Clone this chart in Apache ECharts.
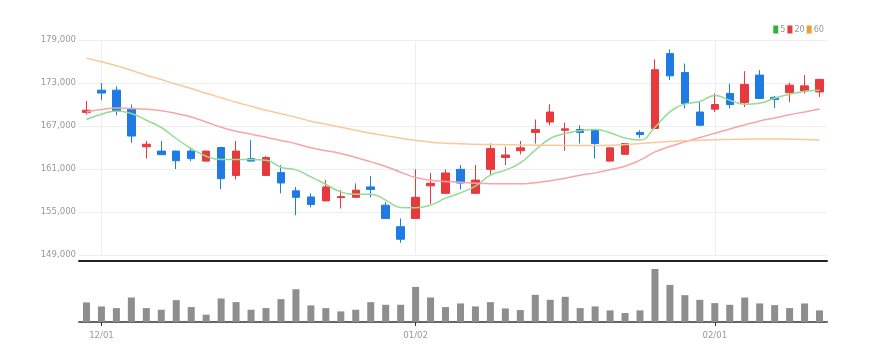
<!DOCTYPE html>
<html>
<head>
<meta charset="utf-8">
<script src="https://cdn.jsdelivr.net/npm/echarts@6/dist/echarts.min.js"></script>
<style>
html,body{margin:0;padding:0;background:#fff;}
#chart{width:877px;height:363px;}
</style>
</head>
<body>
<div id="chart"></div>
<script>
const categories = [
'2022-11-30',
'2022-12-01','2022-12-02','2022-12-05','2022-12-06','2022-12-07','2022-12-08','2022-12-09',
'2022-12-12','2022-12-13','2022-12-14','2022-12-15','2022-12-16','2022-12-19','2022-12-20',
'2022-12-21','2022-12-22','2022-12-23','2022-12-26','2022-12-27','2022-12-28','2022-12-29',
'2023-01-02','2023-01-03','2023-01-04','2023-01-05','2023-01-06','2023-01-09','2023-01-10',
'2023-01-11','2023-01-12','2023-01-13','2023-01-16','2023-01-17','2023-01-18','2023-01-19',
'2023-01-20','2023-01-25','2023-01-26','2023-01-27','2023-01-30','2023-01-31',
'2023-02-01','2023-02-02','2023-02-03','2023-02-06','2023-02-07','2023-02-08','2023-02-09','2023-02-10'
];
const openV  = [168900,172000,172000,169450,164100,163500,163500,163500,162100,164000,160100,162450,160100,160500,157950,157100,156550,157000,157050,158500,155950,152950,154100,158650,157600,160950,157600,160950,162600,163550,166100,167550,166400,166500,166500,162100,163050,166100,166650,177100,174450,168950,169350,171550,170250,174100,171000,171650,171900,171750];
const closeV = [169200,171600,169100,165600,164450,163000,162150,162450,163500,159650,163500,162100,162600,159050,157050,156050,158500,157150,158050,158150,154100,151200,157050,159000,160450,159050,159450,163850,162950,163950,166500,168950,166600,166100,164550,163950,164550,165800,174850,174000,170150,167100,170000,170000,172800,170850,170700,172700,172600,173500];
const lowV   = [168600,170600,168500,164650,162450,162950,161000,162100,162050,158200,159550,162050,160050,157600,154550,155650,156500,155500,157000,157050,154050,150700,154050,156100,157550,158150,157550,160150,161550,163050,164550,167100,163550,164550,162450,162050,163000,165350,166600,173400,169450,167050,168950,169450,169650,170800,169500,170350,171550,171050];
const highV  = [170500,173000,172550,170000,164900,164900,163550,164000,163550,164050,164900,165000,162800,161550,158500,157600,159450,158050,159000,160000,156400,154100,160950,160450,160950,161550,161550,164550,164100,164900,167900,170050,167450,167100,166550,164000,164600,166400,176300,177700,175700,170350,171550,172900,174650,174800,171200,173050,174100,173550];
const volumeV = [59,47,42,74,42,37,66,45,22,71,60,37,42,69,99,50,42,32,37,60,52,52,106,74,45,56,47,60,41,36,82,67,76,42,47,35,27,35,160,112,81,67,57,52,74,56,51,42,56,35];
const ma5  = [167904,168643,169103,168740,167806,166789,165255,163861,162788,162328,162328,162328,162230,161254,160878,159902,158857,157811,157491,157491,156654,155637,155581,155957,156933,157672,158606,160139,160836,161854,163624,165255,165952,166342,166510,166064,165325,165060,166830,168963,170064,170413,171249,170594,170037,170176,170873,171431,171849,171988];
const ma20 = [168963,169298,169521,169437,169340,169130,168740,168266,167569,166830,166273,165855,165436,164976,164530,163973,163554,163164,162607,161993,161352,160557,159819,159442,159261,159163,159024,158954,158926,158926,159094,159372,159721,160139,160460,160906,161394,162230,163387,164140,164781,165395,165994,166593,167151,167695,168113,168573,168963,169367];
const ma60 = [176491,175961,175403,174776,174079,173480,172825,172225,171570,170943,170315,169758,169200,168712,168224,167667,167249,166830,166412,165994,165645,165297,165018,164739,164600,164530,164461,164419,164391,164363,164321,164321,164293,164279,164279,164321,164419,164558,164698,164837,164949,165018,165088,165116,165158,165186,165186,165158,165116,165060];
const maNames = ['5','20','60'];
const priceMin = 149000, priceMax = 179000, priceStep = 6000;

const candleData = openV.map((o, i) => [o, closeV[i], lowV[i], highV[i]]);
const monthStart = (idx) => idx > 0 && categories[idx].slice(5,7) !== categories[idx-1].slice(5,7);
const fmtDate = (v) => v.slice(5,7) + '/' + v.slice(8,10);
const fmtNum = (v) => String(v).replace(/\B(?=(\d{3})+(?!\d))/g, ',');
const narrow = "'Liberation Sans Narrow','DejaVu Sans Condensed','Arial Narrow',sans-serif";
const monthLines = categories.filter((c, i) => monthStart(i)).map(c => ({xAxis: c}));

const chart = echarts.init(document.getElementById('chart'), null, {renderer:'canvas'});
chart.setOption({
  animation: false,
  backgroundColor: '#ffffff',
  legend: {
    data: maNames,
    right: 48, top: 20,
    icon: 'rect', itemWidth: 5, itemHeight: 8, itemGap: 2,
    textStyle: {color: '#999', fontSize: 9, fontFamily: narrow, padding: [0,0,0,-3]}
  },
  grid: [
    {left: 79, right: 50, top: 40, height: 215},
    {left: 79, right: 50, top: 269, height: 53}
  ],
  xAxis: [
    {
      type: 'category', data: categories, gridIndex: 0, boundaryGap: true,
      offset: 6,
      axisLine: {show: true, lineStyle: {color: '#222', width: 2}},
      axisTick: {show: false},
      axisLabel: {show: false},
      splitLine: {show: false}
    },
    {
      type: 'category', data: categories, gridIndex: 1, boundaryGap: true,
      axisLine: {show: true, lineStyle: {color: '#666', width: 2}},
      axisTick: {show: true, alignWithLabel: true, interval: (i) => monthStart(i), length: 4, lineStyle: {color: '#333'}},
      axisLabel: {show: true, interval: (i) => monthStart(i), formatter: fmtDate, color: '#999', fontSize: 9.5, fontFamily: narrow, margin: 9},
      splitLine: {show: false}
    }
  ],
  yAxis: [
    {
      type: 'value', gridIndex: 0, min: priceMin, max: priceMax, interval: priceStep, scale: true,
      axisLine: {show: false}, axisTick: {show: false},
      axisLabel: {color: '#999', fontSize: 9.5, fontFamily: narrow, margin: 3, formatter: fmtNum},
      splitLine: {show: true, lineStyle: {color: '#eeeeee', width: 1}}
    },
    {
      type: 'value', gridIndex: 1, min: 0, max: 160,
      axisLine: {show: false}, axisTick: {show: false}, axisLabel: {show: false}, splitLine: {show: false}
    }
  ],
  series: [
    {
      name: 'monthGrid', type: 'line', data: [], xAxisIndex: 0, yAxisIndex: 0, z: 0, silent: true,
      markLine: {silent: true, symbol: 'none', label: {show: false}, animation: false, z: 0,
        lineStyle: {color: '#eeeeee', type: 'solid', width: 1}, data: monthLines}
    },
    {
      name: 'price', type: 'candlestick', xAxisIndex: 0, yAxisIndex: 0,
      data: candleData, barWidth: 8, z: 2,
      itemStyle: {color: '#e8393d', color0: '#1f7be3', borderColor: '#e8393d', borderColor0: '#1f7be3', borderWidth: 1}
    },
    {
      name: '5', type: 'line', data: ma5, xAxisIndex: 0, yAxisIndex: 0, showSymbol: false, smooth: true,
      itemStyle: {color: '#2db33a'}, lineStyle: {color: '#93dc93', width: 1.5}, z: 3
    },
    {
      name: '20', type: 'line', data: ma20, xAxisIndex: 0, yAxisIndex: 0, showSymbol: false, smooth: true,
      itemStyle: {color: '#e8393d'}, lineStyle: {color: '#f6a5a8', width: 1.5}, z: 3
    },
    {
      name: '60', type: 'line', data: ma60, xAxisIndex: 0, yAxisIndex: 0, showSymbol: false, smooth: true,
      itemStyle: {color: '#f29b36'}, lineStyle: {color: '#f9c99c', width: 1.5}, z: 3
    },
    {
      name: 'volume', type: 'bar', data: volumeV, xAxisIndex: 1, yAxisIndex: 1,
      barWidth: 7, itemStyle: {color: '#8e8e8e'}
    }
  ]
});
</script>
</body>
</html>
